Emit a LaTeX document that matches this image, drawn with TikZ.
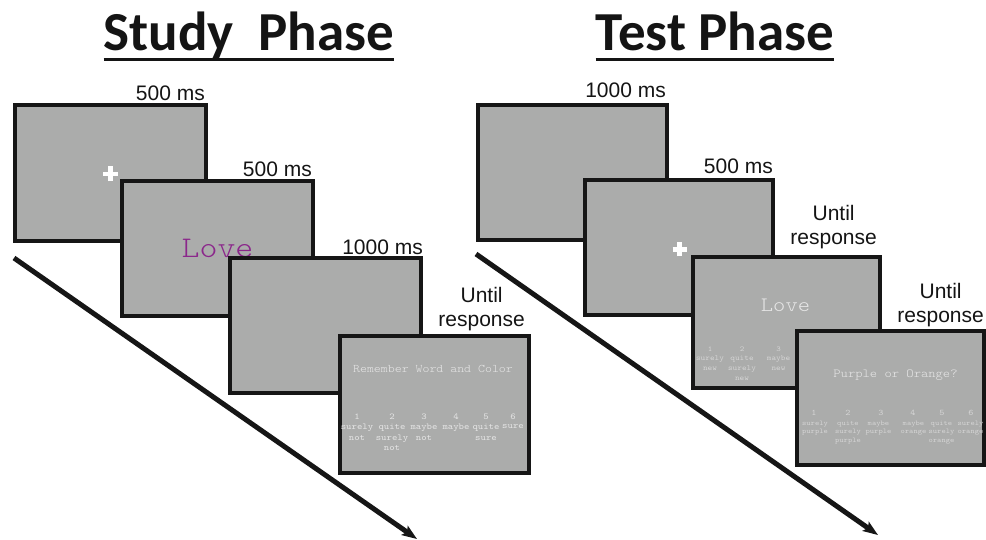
\documentclass[tikz,border=0pt]{standalone}
\usepackage{fontspec}
\setmainfont{Liberation Sans}
\newfontfamily\titlefont{Carlito}
% slab-serif monospace faces, widened to a typewriter's 0.6em advance
\newfontfamily\screenfont[FakeStretch=1.14]{lmmonolt10-regular.otf}
\newfontfamily\scalefont[FakeStretch=1.14]{lmmono10-regular.otf}
\usetikzlibrary{arrows.meta}

\definecolor{scrfill}{RGB}{171,172,171}
\definecolor{scrline}{RGB}{22,22,22}
\definecolor{wordpurple}{RGB}{139,39,139}
\definecolor{scrtext}{RGB}{230,230,230}
\definecolor{scrdim}{RGB}{214,214,214}

\begin{document}
\begin{tikzpicture}[x=1pt,y=-1pt,
  screen/.style={draw=scrline, fill=scrfill, line width=4pt, rectangle,
                 inner sep=0pt, outer sep=0pt},
  phasetitle/.style={font=\titlefont\bfseries\fontsize{55}{60}\selectfont,
                     inner sep=0pt, anchor=base, text=black!92},
  titlerule/.style={line width=3pt, black!92},
  timing/.style={font=\fontsize{21}{24}\selectfont, inner sep=0pt,
                 text=black!92, align=center},
  timeline/.style={line width=5pt, scrline,
                   -{Stealth[length=15pt,width=11pt,inset=3pt]}},
  fixation/.style={white, line width=4.5pt},
  bigword/.style={font=\screenfont\fontsize{#1}{#1}\selectfont, inner sep=0pt, anchor=base},
  scalenum/.style={font=\scalefont\fontsize{#1}{#1}\selectfont, inner sep=0pt, anchor=base},
  scaleword/.style={inner sep=0pt, anchor=north, align=center}
]
\useasboundingbox (0,0) rectangle (986,540);

% ---------- phase titles ----------
\node[phasetitle] (studyT) at (249,51) {Study\hspace{0.45em}Phase};
\node[phasetitle] (testT) at (715,51) {Test Phase};
\draw[titlerule] ([yshift=-9pt]studyT.base west) -- ([yshift=-9pt]studyT.base east);
\draw[titlerule] ([yshift=-9pt]testT.base west) -- ([yshift=-9pt]testT.base east);

% ---------- time arrows ----------
\coordinate (sa0) at (14,258);
\coordinate (sa1) at (417,539);
\coordinate (ta0) at (476,254);
\coordinate (ta1) at (878,535);
\draw[timeline] (sa0) -- (sa1);
\draw[timeline] (ta0) -- (ta1);

% ---------- study phase screens ----------
\node[screen, minimum width=191pt, minimum height=136pt] (s1) at (110.5,173) {};
\coordinate (s1fix) at (110.5,174);
\draw[fixation] ([xshift=-7.5pt]s1fix) -- ([xshift=7.5pt]s1fix);
\draw[fixation] ([yshift=-7.5pt]s1fix) -- ([yshift=7.5pt]s1fix);

\node[screen, minimum width=191pt, minimum height=135pt] (s2) at (217.5,248.5) {};
\node[bigword=30, text=wordpurple] (s2word) at (217.5,258) {Love};

\node[screen, minimum width=191pt, minimum height=135pt] (s3) at (325.5,325.5) {};

\node[screen, minimum width=189pt, minimum height=137pt] (s4) at (434,404.5) {};
\node[bigword=11.6, text=scrtext] (s4head) at (433,372) {Remember Word and Color};
\begin{scope}[every node/.append style={text=scrtext}]
  \node[scalenum=9] (s4n1) at (357,419.5) {1};
  \node[scalenum=9] (s4n2) at (392,419.5) {2};
  \node[scalenum=9] (s4n3) at (424,419.5) {3};
  \node[scalenum=9] (s4n4) at (456,419.5) {4};
  \node[scalenum=9] (s4n5) at (486,419.5) {5};
  \node[scalenum=9] (s4n6) at (513,419.5) {6};
  \tikzset{every node/.append style={font=\scalefont\fontsize{9}{10.5}\selectfont}}
  \node[scaleword] (s4w1) at (357,424) {surely\\not};
  \node[scaleword] (s4w2) at (392,424) {quite\\surely\\not};
  \node[scaleword] (s4w3) at (424,424) {maybe\\not};
  \node[scaleword] (s4w4) at (456,424) {maybe};
  \node[scaleword] (s4w5) at (486,424) {quite\\sure};
  \node[scaleword] (s4w6) at (513,424) {sure};
\end{scope}

% ---------- study phase timings ----------
\node[timing, anchor=base east] (s1time) at (205,101) {500 ms};
\node[timing, anchor=base east] (s2time) at (312,177) {500 ms};
\node[timing, anchor=base east] (s3time) at (423,255) {1000 ms};
\node[timing, anchor=south east] (s4time) at (525,331.5) {Until\\response};

% ---------- test phase screens ----------
\node[screen, minimum width=189pt, minimum height=135pt] (t1) at (572.5,172.5) {};

\node[screen, minimum width=188pt, minimum height=135pt] (t2) at (679,247.5) {};
\coordinate (t2fix) at (679.5,249.5);
\draw[fixation] ([xshift=-7pt]t2fix) -- ([xshift=7pt]t2fix);
\draw[fixation] ([yshift=-7pt]t2fix) -- ([yshift=7pt]t2fix);

\node[screen, minimum width=187pt, minimum height=131pt] (t3) at (786.5,322.5) {};
\node[bigword=20.5, text=scrtext] (t3word) at (785.5,312) {Love};
\begin{scope}[every node/.append style={text=scrdim}]
  \node[scalenum=7.5] (t3n1) at (710,351) {1};
  \node[scalenum=7.5] (t3n2) at (742,351) {2};
  \node[scalenum=7.5] (t3n3) at (778.5,351) {3};
  \tikzset{every node/.append style={font=\scalefont\fontsize{7.8}{10}\selectfont}}
  \node[scaleword] (t3w1) at (710,355.5) {surely\\new};
  \node[scaleword] (t3w2) at (742,355.5) {quite\\surely\\new};
  \node[scaleword] (t3w3) at (778.5,355.5) {maybe\\new};
\end{scope}

\node[screen, minimum width=187pt, minimum height=134pt] (t4) at (890.5,398) {};
\node[bigword=12.2, text=scrtext] (t4head) at (895.5,377) {Purple or Orange?};
\begin{scope}[every node/.append style={text=scrdim}]
  \node[scalenum=8.5] (t4n1) at (814,415.5) {1};
  \node[scalenum=8.5] (t4n2) at (848,415.5) {2};
  \node[scalenum=8.5] (t4n3) at (881,415.5) {3};
  \node[scalenum=8.5] (t4n4) at (913,415.5) {4};
  \node[scalenum=8.5] (t4n5) at (942,415.5) {5};
  \node[scalenum=8.5] (t4n6) at (971,415.5) {6};
  \tikzset{every node/.append style={font=\scalefont\fontsize{7.2}{8.5}\selectfont}}
  \node[scaleword] (t4w1) at (815,420.7) {surely\\purple};
  \node[scaleword] (t4w2) at (848,420.7) {quite\\surely\\purple};
  \node[scaleword] (t4w3) at (878.5,420.7) {maybe\\purple};
  \node[scaleword] (t4w4) at (913.5,420.7) {maybe\\orange};
  \node[scaleword] (t4w5) at (941.5,420.7) {quite\\surely\\orange};
  \node[scaleword] (t4w6) at (970.5,420.7) {surely\\orange};
\end{scope}

% ---------- test phase timings ----------
\node[timing, anchor=base east] (t1time) at (666,98) {1000 ms};
\node[timing, anchor=base east] (t2time) at (773,174) {500 ms};
\node[timing, anchor=south east] (t3time) at (877,249.5) {Until\\response};
\node[timing, anchor=south east] (t4time) at (984,327.5) {Until\\response};
\end{tikzpicture}
\end{document}
